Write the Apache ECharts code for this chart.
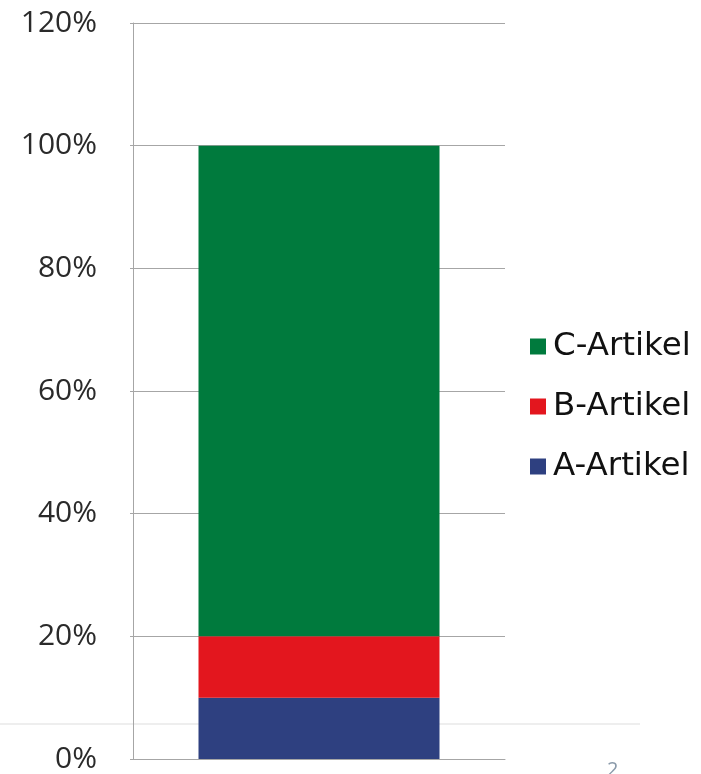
<!DOCTYPE html>
<html>
<head>
<meta charset="utf-8">
<script src="https://cdn.jsdelivr.net/npm/echarts@6/dist/echarts.min.js"></script>
<style>html,body{margin:0;padding:0;background:#fff}#c{width:701px;height:774px}</style>
</head>
<body>
<div id="c"></div>
<script>
const categories = [''];
const seriesNames = ['A-Artikel', 'B-Artikel', 'C-Artikel'];
const aValues = [10];
const bValues = [10];
const cValues = [80];
const legendOrder = ['C-Artikel', 'B-Artikel', 'A-Artikel'];
const yTicks = [0, 20, 40, 60, 80, 100, 120];

const colors = ['#2E4080', '#E3161E', '#007A3D'];
const chart = echarts.init(document.getElementById('c'));
const valueSets = [aValues, bValues, cValues];
chart.setOption({
  animation: false,
  grid: { left: 133, right: 196, top: 23, bottom: 12 },
  xAxis: {
    type: 'category', data: categories,
    axisLine: { show: true, lineStyle: { color: '#A6A6A6', width: 1 } },
    axisTick: { show: false }, axisLabel: { show: false }
  },
  yAxis: {
    type: 'value', min: yTicks[0], max: yTicks[yTicks.length - 1], interval: 20,
    axisLine: { show: true, lineStyle: { color: '#A6A6A6', width: 1 } },
    axisTick: { show: true, length: 3, lineStyle: { color: '#A6A6A6' } },
    splitLine: { lineStyle: { color: '#A6A6A6', width: 1 } },
    axisLabel: { formatter: v => v + '%', fontFamily: 'Open Sans', fontSize: 30, color: '#2a2a2a', margin: 36 }
  },
  legend: {
    data: legendOrder, orient: 'vertical', left: 525, top: 325,
    itemWidth: 16, itemHeight: 16, itemGap: 27, icon: 'rect',
    textStyle: { fontFamily: 'DejaVu Sans', fontSize: 32.5, lineHeight: 32, color: '#111', padding: [0, 0, 0, 2] }
  },
  series: seriesNames.map((n, i) => ({
    name: n, type: 'bar', stack: 'total', data: valueSets[i], barWidth: 241,
    itemStyle: { color: colors[i] }
  })),
  graphic: [
    { type: 'line', shape: { x1: 0, y1: 724, x2: 640, y2: 724 }, style: { stroke: '#EEEEEE', lineWidth: 2 }, z: -1 },
    { type: 'text', left: 607, top: 760, style: { text: '2', fontFamily: 'Open Sans', fontSize: 20, fill: '#8A9AAA' } }
  ]
});
</script>
</body>
</html>
